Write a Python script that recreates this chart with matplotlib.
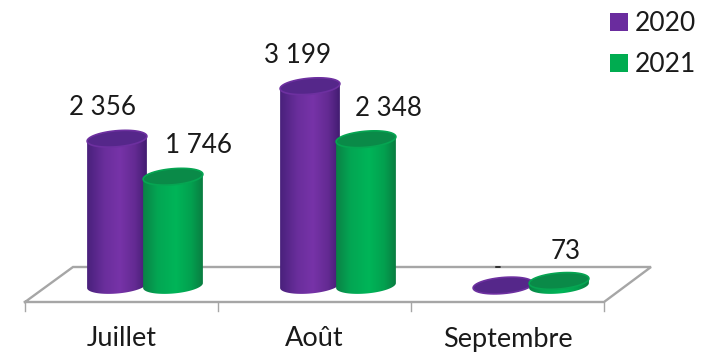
import numpy as np
import matplotlib
matplotlib.use('Agg')
import matplotlib.pyplot as plt
from matplotlib.colors import LinearSegmentedColormap
from matplotlib.patches import Patch, Polygon

plt.rcParams['font.family'] = ['Lato', 'DejaVu Sans']

MONTHS = ['Juillet', 'Août', 'Septembre']
VALUES_2020 = [2356, 3199, 0]
VALUES_2021 = [1746, 2348, 73]
LABELS_2020 = ['2 356', '3 199', '-']
LABELS_2021 = ['1 746', '2 348', '73']

# scales of the picture
PX_PER_MONTH = 193
PX_PER_UNIT = 0.0623
BASE_PX = 285.5
ZERO_PX = 145

fig = plt.figure(figsize=(7.04, 3.55), dpi=100)
ax = fig.add_axes([0, 0, 1, 1])


def dx(px):
    return px / PX_PER_MONTH


def dy(px):
    return px / PX_PER_UNIT


def ellipse_arc(x, y, t0, t1, a=30, b=8.0, tilt=5.0):
    # tilted ellipse, worked out in pixels and turned back to data units
    t = np.linspace(t0, t1, 60)
    c, s = np.cos(np.radians(tilt)), np.sin(np.radians(tilt))
    ex = a * np.cos(t) * c - b * np.sin(t) * s
    ey = a * np.cos(t) * s + b * np.sin(t) * c
    return np.column_stack([x + dx(ex), y + dy(ey)])


def cylinder(x, value, cmap, top, rim):
    # lower arc goes left to right through the bottom of the ellipse
    low = ellipse_arc(x, 0, np.pi, 2 * np.pi)
    up = ellipse_arc(x, value, 0, np.pi)
    body = Polygon(np.vstack([low, up]), closed=True, transform=ax.transData,
                   fc='none', ec='none')
    ax.add_patch(body)
    grad = np.linspace(0, 1, 128).reshape(1, -1)
    img = ax.imshow(grad, cmap=cmap, aspect='auto', zorder=3,
                    extent=[x - dx(31), x + dx(31), -dy(12), value + dy(12)])
    img.set_clip_path(body)
    cap = ellipse_arc(x, value, 0, 2 * np.pi)
    ax.add_patch(Polygon(cap, closed=True, fc=top, ec=rim, lw=1.2, zorder=3))


purple = LinearSegmentedColormap.from_list(
    'p', [(0, '#47207a'), (0.3, '#6a2e9c'), (0.55, '#7733a8'), (0.8, '#632a92'), (1, '#3f1b6e')])
green = LinearSegmentedColormap.from_list(
    'g', [(0, '#0b8045'), (0.25, '#03a653'), (0.55, '#00b558'), (0.8, '#03a04f'), (1, '#0a7a40')])

# floor of the 3D chart
left, right = dx(25 - ZERO_PX), dx(604 - ZERO_PX)
b_left, b_right = dx(73 - ZERO_PX), dx(651 - ZERO_PX)
front, back = dy(BASE_PX - 302), dy(BASE_PX - 267)
ax.plot([left, right, b_right, b_left, left], [front, front, back, back, front],
        color='#a6a6a6', lw=1.7, zorder=1, solid_joinstyle='miter')
for i in range(len(MONTHS) + 1):
    tx = left + i
    ax.plot([tx, tx], [front, front - dy(9)], color='#a6a6a6', lw=1, zorder=1)

for i, m in enumerate(MONTHS):
    ax.text(left + i + 0.5, dy(BASE_PX - 339), m, ha='center', va='center',
            fontsize=19.5, color='#1a1a1a')

    cylinder(i - dx(28), VALUES_2020[i], purple, '#55278a', '#6d30a0')
    cylinder(i + dx(28), VALUES_2021[i], green, '#0a8a48', '#06a552')

# value labels sit off to the side of each cylinder
ax.text(0 - dx(43), VALUES_2020[0] + dy(31), LABELS_2020[0], ha='center', va='center', fontsize=18.7, color='#1a1a1a')
ax.text(1 - dx(40), VALUES_2020[1] + dy(31), LABELS_2020[1], ha='center', va='center', fontsize=18.7, color='#1a1a1a')
ax.text(2 - dx(33), VALUES_2020[2] + dy(19), LABELS_2020[2], ha='center', va='center', fontsize=15, fontweight='bold', color='#333333')
ax.text(0 + dx(53), VALUES_2021[0] + dy(31), LABELS_2021[0], ha='center', va='center', fontsize=18.7, color='#1a1a1a')
ax.text(1 + dx(50), VALUES_2021[1] + dy(31), LABELS_2021[1], ha='center', va='center', fontsize=18.7, color='#1a1a1a')
ax.text(2 + dx(35), VALUES_2021[2] + dy(29), LABELS_2021[2], ha='center', va='center', fontsize=18.7, color='#1a1a1a')

ax.set_xlim(dx(-ZERO_PX), dx(704 - ZERO_PX))
ax.set_ylim(dy(BASE_PX - 355), dy(BASE_PX))
ax.axis('off')

handles = [Patch(fc='#6a2c9e', ec='none', label='2020'), Patch(fc='#00ac50', ec='none', label='2021')]
leg = ax.legend(handles=handles, loc='upper left', bbox_to_anchor=(589 / 704, 1 + 10 / 355), frameon=False,
                fontsize=19, handlelength=0.68, handleheight=0.68, labelspacing=0.6,
                handletextpad=0.25, borderpad=0.3, labelcolor='#1a1a1a')

fig.savefig('out.png', dpi=100)
